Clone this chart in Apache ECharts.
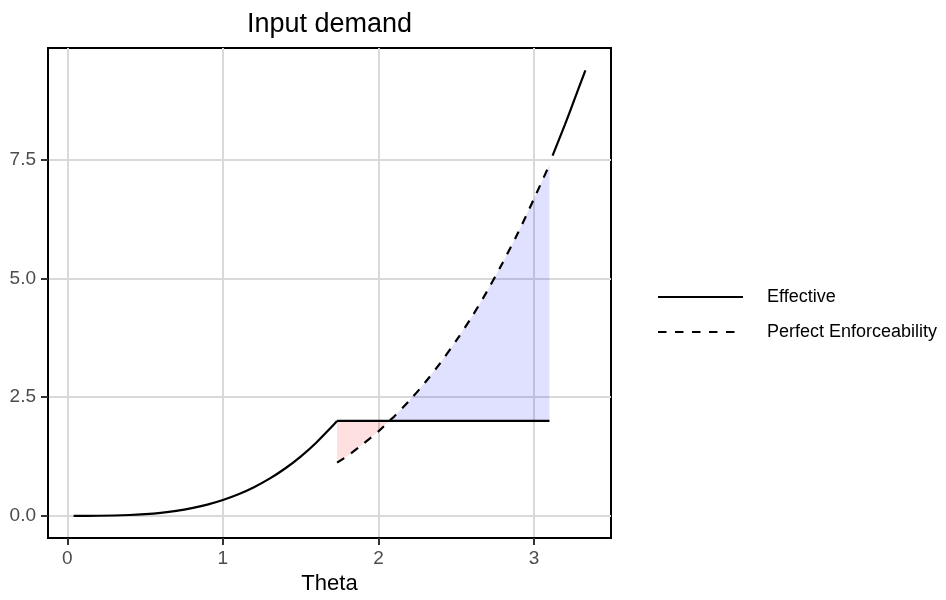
<!DOCTYPE html>
<html>
<head>
<meta charset="utf-8">
<script src="https://cdn.jsdelivr.net/npm/echarts@6/dist/echarts.min.js"></script>
<style>
  html, body { margin: 0; padding: 0; background: #fff; }
  #canvas { width: 946px; height: 600px; }
</style>
</head>
<body>
<div id="canvas"></div>
<script>
// values
var effLowTheta = [0.04, 0.2, 0.4, 0.5, 0.6, 0.7, 0.8, 0.9, 1.0, 1.1, 1.2, 1.3, 1.4, 1.5, 1.6, 1.7, 1.734];
var effLowY = [0.0, 0.002, 0.017, 0.035, 0.063, 0.104, 0.161, 0.236, 0.333, 0.454, 0.603, 0.783, 0.997, 1.249, 1.541, 1.878, 2.0];
var flatTheta = [1.734, 3.1];
var flatY = [2.0, 2.0];
var effHighTheta = [3.12, 3.2, 3.26, 3.331];
var effHighY = [7.59, 8.25, 8.77, 9.39];
var perfTheta = [1.734, 1.8, 1.9, 2.0, 2.07, 2.1, 2.2, 2.3, 2.4, 2.5, 2.6, 2.7, 2.8, 2.9, 3.0, 3.1];
var perfY = [1.12, 1.26, 1.51, 1.78, 2.0, 2.09, 2.43, 2.81, 3.23, 3.69, 4.19, 4.74, 5.34, 5.98, 6.68, 7.4];
var crossTheta = 2.07;
var xTicks = [0, 1, 2, 3];
var yTicks = [0, 2.5, 5, 7.5];

var pairs = function(xs, ys) {
    var out = [];
    for (var i = 0; i < xs.length; i++) out.push([xs[i], ys[i]]);
    return out;
};

// shaded gaps between the flat line (2) and the dashed curve
var pinkPts = [[flatTheta[0], 2], [crossTheta, 2]];
var bluePts = [];
for (var i = perfTheta.length - 1; i >= 0; i--) {
    if (perfTheta[i] <= crossTheta) pinkPts.push([perfTheta[i], perfY[i]]);
}
for (var i = 0; i < perfTheta.length; i++) {
    if (perfTheta[i] >= crossTheta) bluePts.push([perfTheta[i], perfY[i]]);
}
bluePts.push([flatTheta[1], 2]);
bluePts.push([crossTheta, 2]);

var font = 'Liberation Sans, Arial, sans-serif';
var myChart = echarts.init(document.getElementById('canvas'));

var band = function(id, pts, color) {
    return {
        id: id, type: 'custom', silent: true, z: 1,
        data: [pts[0]],
        renderItem: function(params, api) {
            var shape = pts.map(function(p) { return api.coord(p); });
            return {
                type: 'polygon',
                shape: {points: shape},
                style: {fill: color, stroke: null}
            };
        }
    };
};

var option = {
    animation: false,
    title: {
        text: 'Input demand',
        left: 324.5, top: 6, textAlign: 'center',
        textStyle: {fontFamily: font, fontSize: 27, fontWeight: 'normal', color: '#000'}
    },
    legend: {
        orient: 'vertical',
        left: 657, top: 288,
        padding: 0,
        itemWidth: 85, itemHeight: 20, itemGap: 17,
        data: ['Effective', 'Perfect Enforceability'],
        itemStyle: {opacity: 0},
        textStyle: {fontFamily: font, fontSize: 18, color: '#000', padding: [0, 0, 0, 19]}
    },
    grid: {
        left: 48, top: 48, width: 563, height: 496,
        show: true, borderColor: '#000', borderWidth: 2,
        containLabel: false
    },
    xAxis: {
        type: 'value',
        min: -0.1246, max: 3.4956,
        name: 'Theta', nameLocation: 'middle', nameGap: 32,
        nameTextStyle: {fontFamily: font, fontSize: 22, color: '#000'},
        axisLine: {show: true, onZero: false, lineStyle: {color: '#000', width: 2}},
        axisTick: {show: true, inside: false, length: 7, customValues: xTicks, lineStyle: {color: '#333', width: 2}},
        axisLabel: {customValues: xTicks, margin: 11, fontFamily: font, fontSize: 19, color: '#4d4d4d'},
        splitLine: {show: true, lineStyle: {color: '#d9d9d9', width: 2}}
    },
    yAxis: {
        type: 'value',
        min: -0.4695, max: 9.8595,
        axisLine: {show: true, onZero: false, lineStyle: {color: '#000', width: 2}},
        axisTick: {show: true, inside: false, length: 7, customValues: yTicks, lineStyle: {color: '#333', width: 2}},
        axisLabel: {
            customValues: yTicks, margin: 12, fontFamily: font, fontSize: 19, color: '#4d4d4d',
            formatter: function(v) { return v.toFixed(1); }
        },
        splitLine: {show: true, lineStyle: {color: '#d9d9d9', width: 2}}
    },
    series: [
        band('pinkFill', pinkPts, 'rgba(255,0,0,0.12)'),
        band('blueFill', bluePts, 'rgba(0,0,255,0.12)'),
        {
            name: 'Effective', type: 'line', data: pairs(effLowTheta, effLowY),
            symbol: 'none', smooth: 0.3, z: 5, lineStyle: {color: '#000', width: 2.2}
        },
        {
            name: 'Effective', type: 'line', data: pairs(flatTheta, flatY),
            symbol: 'none', z: 5, lineStyle: {color: '#000', width: 2.2}
        },
        {
            name: 'Effective', type: 'line', data: pairs(effHighTheta, effHighY),
            symbol: 'none', smooth: 0.3, z: 5, lineStyle: {color: '#000', width: 2.2}
        },
        {
            name: 'Perfect Enforceability', type: 'line', data: pairs(perfTheta, perfY),
            symbol: 'none', smooth: 0.3, z: 5,
            lineStyle: {color: '#000', width: 2.2, type: [8.5, 8.5]}
        }
    ]
};
myChart.setOption(option);
</script>
</body>
</html>
